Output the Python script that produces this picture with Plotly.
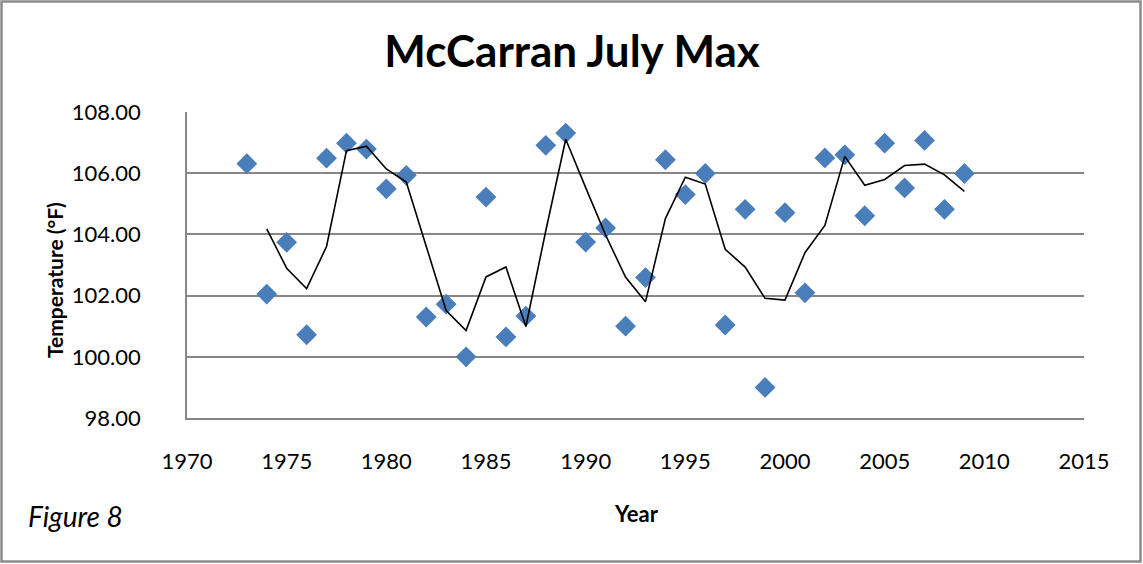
import plotly.graph_objects as go
import pandas as pd

years = list(range(1973, 2010))
temps = [106.31, 102.05, 103.74, 100.72, 106.49, 106.98, 106.79, 105.49, 105.93,
         101.30, 101.72, 100.00, 105.22, 100.65, 101.33, 106.91, 107.31, 103.75,
         104.21, 101.00, 102.59, 106.44, 105.30, 105.99, 101.04, 104.82, 99.00,
         104.71, 102.09, 106.50, 106.60, 104.61, 106.98, 105.52, 107.07, 104.82,
         105.99]

# 2-period moving average trendline (as in the original spreadsheet chart)
ma = pd.Series(temps).rolling(2).mean().tolist()

title_text = "McCarran July Max"
x_title = "Year"
y_title = "Temperature (°F)"
caption = "Figure 8"

W, H = 1143, 564
L, R, T, B = 187, 59, 112, 146
pw, ph = W - L - R, H - T - B

FONT = "Lato, Calibri, 'Open Sans', sans-serif"
grid_col = "#878787"

fig = go.Figure()
fig.add_trace(go.Scatter(
    x=years, y=temps, mode="markers",
    marker=dict(symbol="diamond", size=16, color="#4A7EBB", line=dict(width=0)),
    showlegend=False, hoverinfo="x+y"))
fig.add_trace(go.Scatter(
    x=years, y=ma, mode="lines",
    line=dict(color="black", width=1.6),
    showlegend=False, connectgaps=False))

def px_x(p):
    return (p - L) / pw

def px_y(p):
    return (H - B - p) / ph

fig.update_layout(
    width=W, height=H,
    margin=dict(l=L, r=R, t=T, b=B, pad=0),
    paper_bgcolor="white", plot_bgcolor="white",
    font=dict(family=FONT, color="black", size=22),
    title=dict(text="<b>" + title_text + "</b>", x=px_x(572), xref="paper",
               xanchor="center", y=1 - 52 / H, yanchor="middle",
               font=dict(size=44, family=FONT, color="black")),
    xaxis=dict(range=[1970, 2015], dtick=5, tick0=1970, showgrid=False,
               showline=True, linecolor=grid_col, linewidth=1.5, zeroline=False,
               ticks="outside", ticklen=23, tickcolor="rgba(0,0,0,0)",
               tickfont=dict(size=22, family=FONT)),
    yaxis=dict(range=[98, 108], dtick=2, tick0=98, tickformat=".2f",
               showgrid=True, gridcolor=grid_col, gridwidth=1.5,
               showline=True, linecolor=grid_col, linewidth=1.5,
               zeroline=False, ticks="outside", ticklen=40,
               tickcolor="rgba(0,0,0,0)",
               tickfont=dict(size=22, family=FONT)),
    shapes=[dict(type="rect", xref="paper", yref="paper",
                 x0=px_x(1.5), x1=px_x(W - 2.5), y0=px_y(H - 2.5), y1=px_y(1.5),
                 line=dict(color="#8c8c8c", width=2.5), fillcolor="rgba(0,0,0,0)",
                 layer="above")],
    annotations=[
        dict(text="<i>" + caption + "</i>", xref="paper", yref="paper",
             x=px_x(26), y=px_y(516), xanchor="left", yanchor="middle",
             showarrow=False, font=dict(size=28, family=FONT, color="black")),
        dict(text="<b>" + x_title + "</b>", xref="paper", yref="paper",
             x=px_x(636), y=px_y(513), xanchor="center", yanchor="middle",
             showarrow=False, font=dict(size=22, family=FONT, color="black")),
        dict(text="<b>" + y_title + "</b>", xref="paper", yref="paper",
             x=px_x(54), y=px_y(280), xanchor="center", yanchor="middle",
             textangle=-90, showarrow=False,
             font=dict(size=21, family=FONT, color="black")),
    ],
)

fig.write_html("out.html", config={"displayModeBar": False},
               post_script="document.body.style.margin='0';document.body.style.overflow='hidden';")
